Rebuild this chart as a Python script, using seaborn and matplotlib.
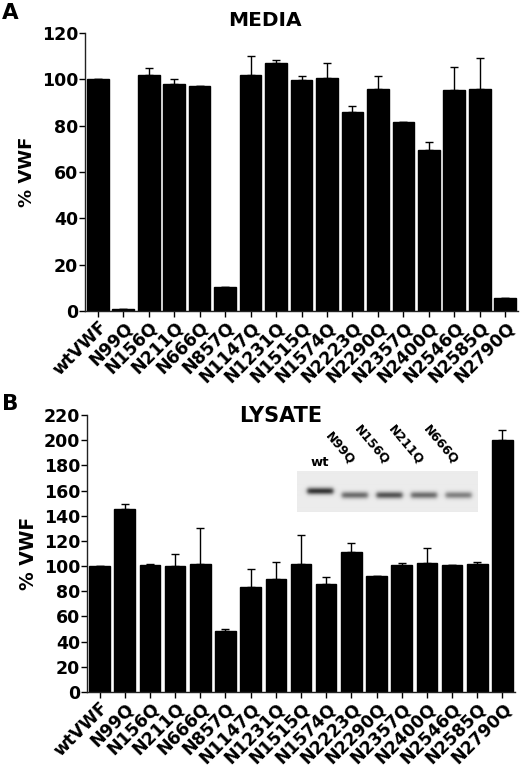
import numpy as np
import matplotlib
matplotlib.use("Agg")
import matplotlib.pyplot as plt
import seaborn as sns

# mutant names (x axis)
mutants = ["wtVWF", "N99Q", "N156Q", "N211Q", "N666Q", "N857Q", "N1147Q", "N1231Q",
           "N1515Q", "N1574Q", "N2223Q", "N2290Q", "N2357Q", "N2400Q", "N2546Q",
           "N2585Q", "N2790Q"]

# panel A: media, % VWF and upper error
media_mean = [100, 0.7, 102, 98, 97, 10.5, 102, 107, 99.5, 100.5, 86, 96, 81.5, 69.5, 95.5, 96, 5.5]
media_err = [0, 0, 3, 2, 0, 0, 8, 1.5, 2, 6.5, 2.7, 5.5, 0, 3.3, 10, 13, 0]

# panel B: lysate
lysate_mean = [100, 145, 101, 100, 101.5, 48.5, 83, 89.5, 101.5, 86, 111, 92, 100.5, 102.5, 100.5, 102, 200]
lysate_err = [0, 4.5, 0.7, 10, 28.5, 1.2, 14.5, 13.5, 23.5, 5, 7.5, 0, 1.8, 12, 0, 1.6, 8]

# western blot inset
blot_lanes = ["wt", "N99Q", "N156Q", "N211Q", "N666Q"]
blot_strength = [0.72, 0.5, 0.6, 0.5, 0.42]

sns.set_style("ticks")
plt.rcParams["font.family"] = ["DejaVu Sans"]
plt.rcParams["font.weight"] = "bold"
plt.rcParams["axes.linewidth"] = 1.0
plt.rcParams["axes.edgecolor"] = "#222222"
plt.rcParams["text.color"] = "black"
plt.rcParams["axes.labelcolor"] = "black"
plt.rcParams["xtick.color"] = "black"
plt.rcParams["ytick.color"] = "black"

fig = plt.figure(figsize=(5.2, 7.67), dpi=100)
W, H = 520, 767


def px_axes(left, top, right, bottom):
    return fig.add_axes([left / W, 1 - bottom / H, (right - left) / W, (bottom - top) / H])


def bar_panel(ax, means, errs, ymax, width):
    sns.barplot(x=mutants, y=means, color="black", width=width, errorbar=None,
                saturation=1, ax=ax)
    for p in ax.patches:
        p.set_edgecolor("black")
    lower = np.zeros(len(means))
    ax.errorbar(np.arange(len(means)), means, yerr=[lower, errs], fmt="none",
                ecolor="black", elinewidth=1, capsize=3.2, capthick=1)
    ax.set_xlim(-0.5, len(means) - 0.5)
    ax.set_ylim(0, ymax)
    ax.set_yticks(np.arange(0, ymax + 1, 20))
    ax.tick_params(axis="y", labelsize=12.5, length=4, width=1, pad=1)
    ax.tick_params(axis="x", labelsize=12.5, length=4, width=1, pad=1)
    for lab in ax.get_xticklabels():
        lab.set_rotation(45)
        lab.set_ha("right")
        lab.set_rotation_mode("anchor")
    for lab in ax.get_yticklabels() + ax.get_xticklabels():
        lab.set_fontweight("bold")
    sns.despine(ax=ax)


axA = px_axes(85, 33, 518, 311)
bar_panel(axA, media_mean, media_err, 120, 0.85)
axA.set_ylabel("% VWF", fontsize=13, fontweight="bold", labelpad=4)
fig.text(265 / W, 1 - 21 / H, "MEDIA", ha="center", va="center", fontsize=14.5, fontweight="bold")
fig.text(2 / W, 1 - 13 / H, "A", ha="left", va="center", fontsize=15.5, fontweight="bold")

axB = px_axes(87, 415, 515, 692)
bar_panel(axB, lysate_mean, lysate_err, 220, 0.82)
axB.set_ylabel("% VWF", fontsize=13.5, fontweight="bold", labelpad=4)
fig.text(281 / W, 1 - 416 / H, "LYSATE", ha="center", va="center", fontsize=15, fontweight="bold")
fig.text(2 / W, 1 - 404 / H, "B", ha="left", va="center", fontsize=15.5, fontweight="bold")

# blot inset
axI = px_axes(297, 471, 478, 512)
ny, nx = 41, 181
img = np.full((ny, nx), 0.925)
yy, xx = np.mgrid[0:ny, 0:nx]
for i, s in enumerate(blot_strength):
    cx = (0.126 + 0.191 * i) * nx
    cy = 20 if i == 0 else 24
    prof_x = 1 / (1 + np.exp((np.abs(xx - cx) - 13) / 1.2))
    band = np.exp(-((yy - cy) / 3.3) ** 2) * prof_x
    img -= s * band
axI.imshow(img, cmap="gray", vmin=0, vmax=1, aspect="auto", interpolation="bilinear")
axI.set_axis_off()
for i, name in enumerate(blot_lanes):
    cx = 297 + (0.126 + 0.191 * i) * 181
    if i == 0:
        fig.text(cx / W, 1 - 463 / H, name, ha="center", va="center", fontsize=9.5, fontweight="bold")
    else:
        fig.text((cx - 2) / W, 1 - 463 / H, name, ha="right", va="center", rotation=-50,
                 rotation_mode="anchor", fontsize=9, fontweight="bold")

fig.savefig("out.png", dpi=100)
